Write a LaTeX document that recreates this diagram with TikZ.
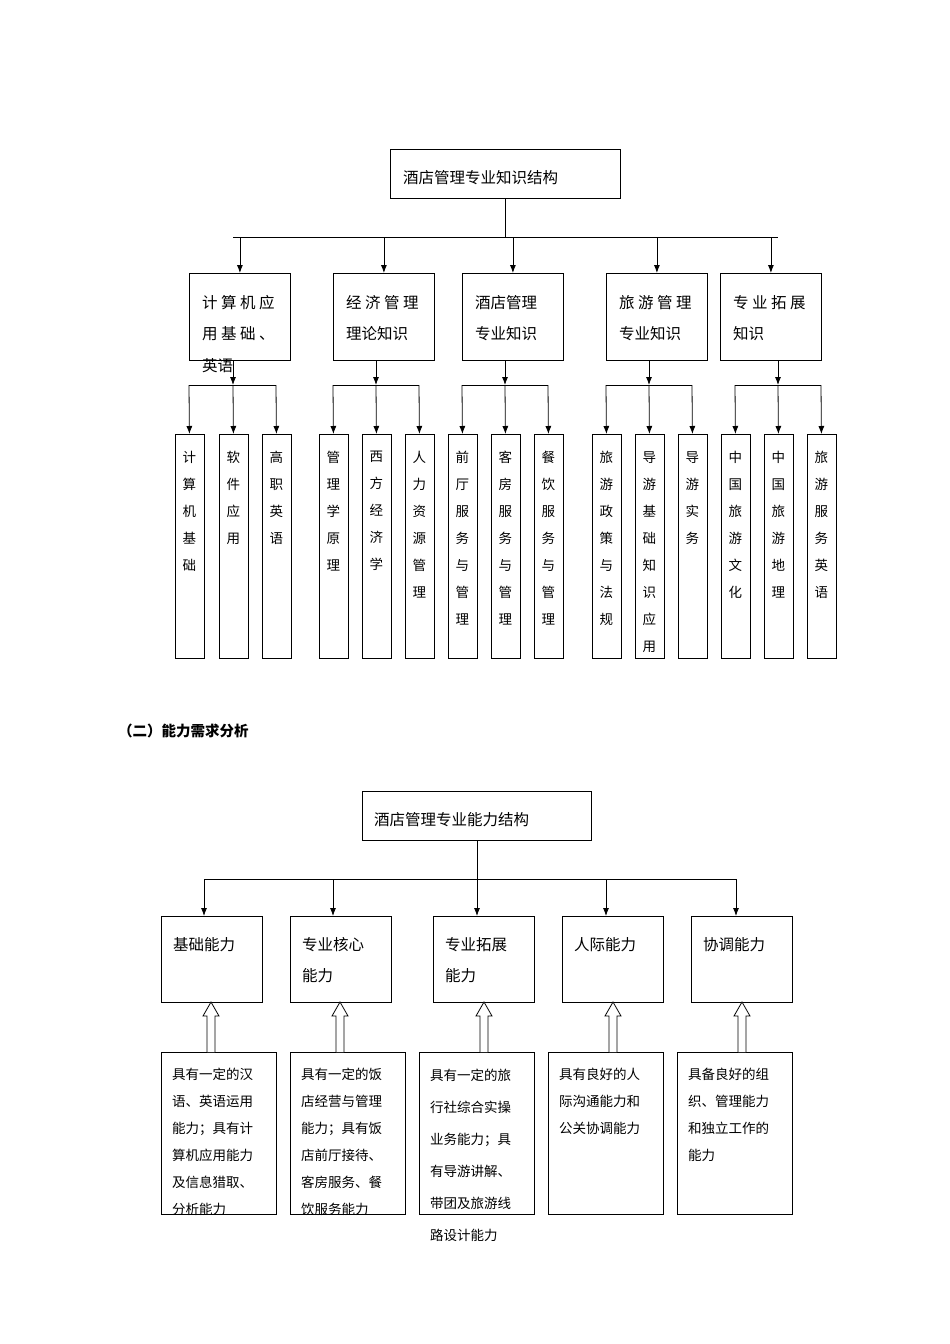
\documentclass[tikz,border=0pt]{standalone}
\usepackage{fontspec}
\setmainfont{Noto Sans CJK SC}
\usetikzlibrary{arrows.meta}
\begin{document}
\begin{tikzpicture}[x=1pt,y=-1pt,
  box/.style={draw,thick,inner sep=0,anchor=north west},
  txt/.style={anchor=west,inner sep=0,font=\fontsize{15.5}{16}\selectfont},
  stxt/.style={anchor=north west,inner sep=0,align=left,font=\fontsize{13.5}{27}\selectfont},
  vt/.style={anchor=north,inner sep=0,align=center,font=\fontsize{13.5}{27}\selectfont},
  arr/.style={thick,-{Latex[length=8pt,width=6pt]}},
  ln/.style={thick}]
\useasboundingbox (0,0) rectangle (950,1344);
% ---------- top ----------
\node[box,minimum width=230,minimum height=49] (r) at (390,149) {};
\node[txt] at (403,178) {酒店管理专业知识结构};
\coordinate (rb) at (505,237);
\draw[ln] (r.south -| rb) -- (rb);
\draw[ln] (233,237) -- (778,237);
\foreach \n/\x/\l/\a/\b/\c in {1/189/计 算 机 应/用 基 础 、/英语, 2/333/经 济 管 理/理论知识/, 3/462/酒店管理/专业知识/, 4/606/旅 游 管 理/专业知识/, 5/720/专 业 拓 展/知识/}{
  \node[box,minimum width=101,minimum height=87] (m\n) at (\x,273) {};
  \draw[arr] (m\n.north |- 237,237) -- (m\n.north);
  \node[txt] at (\x+13,303) {\l};
  \node[txt] at (\x+13,334) {\a};
  \node[txt] at (\x+13,366) {\b};
}
\foreach \n/\xa/\xb/\xc/\cx in {1/189/233/276/233, 2/333/376/419/376, 3/462/505/548/505, 4/606/649/692/649, 5/735/778/821/778}{
  \draw[arr] (\cx,360) -- (\cx,385) ;
  \draw[ln] (\xa,385) -- (\xc,385);
}
\def\leaf#1#2#3{\node[box,minimum width=29,minimum height=224] (#1) at (#2-14.5,434) {};
  \draw[arr] (#2,385) -- (#1.north);
  \node[vt] at ([yshift=-17pt]#1.north) {#3};}
\leaf{a1}{189}{计\\算\\机\\基\\础}
\leaf{a2}{233}{软\\件\\应\\用}
\leaf{a3}{276}{高\\职\\英\\语}
\leaf{b1}{333}{管\\理\\学\\原\\理}
\leaf{b2}{376}{西\\方\\经\\济\\学}
\leaf{b3}{419}{人\\力\\资\\源\\管\\理}
\leaf{c1}{462}{前\\厅\\服\\务\\与\\管\\理}
\leaf{c2}{505}{客\\房\\服\\务\\与\\管\\理}
\leaf{c3}{548}{餐\\饮\\服\\务\\与\\管\\理}
\leaf{d1}{606}{旅\\游\\政\\策\\与\\法\\规}
\leaf{d2}{649}{导\\游\\基\\础\\知\\识\\应\\用}
\leaf{d3}{692}{导\\游\\实\\务}
\leaf{e1}{735}{中\\国\\旅\\游\\文\\化}
\leaf{e2}{778}{中\\国\\旅\\游\\地\\理}
\leaf{e3}{821}{旅\\游\\服\\务\\英\\语}
% ---------- heading ----------
\node[anchor=west,inner sep=0,font=\fontsize{14.5}{16}\selectfont\bfseries] (h) at (118,731) {（二）能力需求分析};
% ---------- bottom ----------
\node[box,minimum width=229,minimum height=49] (R) at (362,791) {};
\node[txt] at (374,820) {酒店管理专业能力结构};
\draw[ln] (R.south -| 477,0) -- (477,879);
\draw[ln] (204,879) -- (736,879);
\foreach \n/\x/\ax/\l/\a/\hx/\bx in {1/161/204/基础能力//211/161, 2/290/333/专业核心/能力/340/290, 3/433/477/专业拓展/能力/484/419, 4/562/606/人际能力//613/548, 5/691/736/协调能力//742/677}{
  \node[box,minimum width=101,minimum height=86] (k\n) at (\x,916) {};
  \draw[arr] (\ax,879) -- (k\n.north -| \ax,0);
  \node[txt] at (\x+12,945) {\l};
  \node[txt] at (\x+12,976) {\a};
  \node[box,minimum width=115,minimum height=162] (t\n) at (\bx,1052) {};
  \draw[thick,fill=white] (t\n.north -| \hx,0) ++(-4,0) -- ++(0,-36) -- ++(-4,0) -- ++(8,-14) -- ++(8,14) -- ++(-4,0) -- ++(0,36);
}
\node[stxt] at (172,1068) {具有一定的汉\\语、英语运用\\能力；具有计\\算机应用能力\\及信息猎取、\\分析能力};
\node[stxt] at (301,1068) {具有一定的饭\\店经营与管理\\能力；具有饭\\店前厅接待、\\客房服务、餐\\饮服务能力};
\node[stxt,font=\fontsize{13.5}{32}\selectfont] at (430,1069) {具有一定的旅\\行社综合实操\\业务能力；具\\有导游讲解、\\带团及旅游线\\路设计能力};
\node[stxt] at (559,1068) {具有良好的人\\际沟通能力和\\公关协调能力};
\node[stxt] at (688,1068) {具备良好的组\\织、管理能力\\和独立工作的\\能力};
\end{tikzpicture}
\end{document}
